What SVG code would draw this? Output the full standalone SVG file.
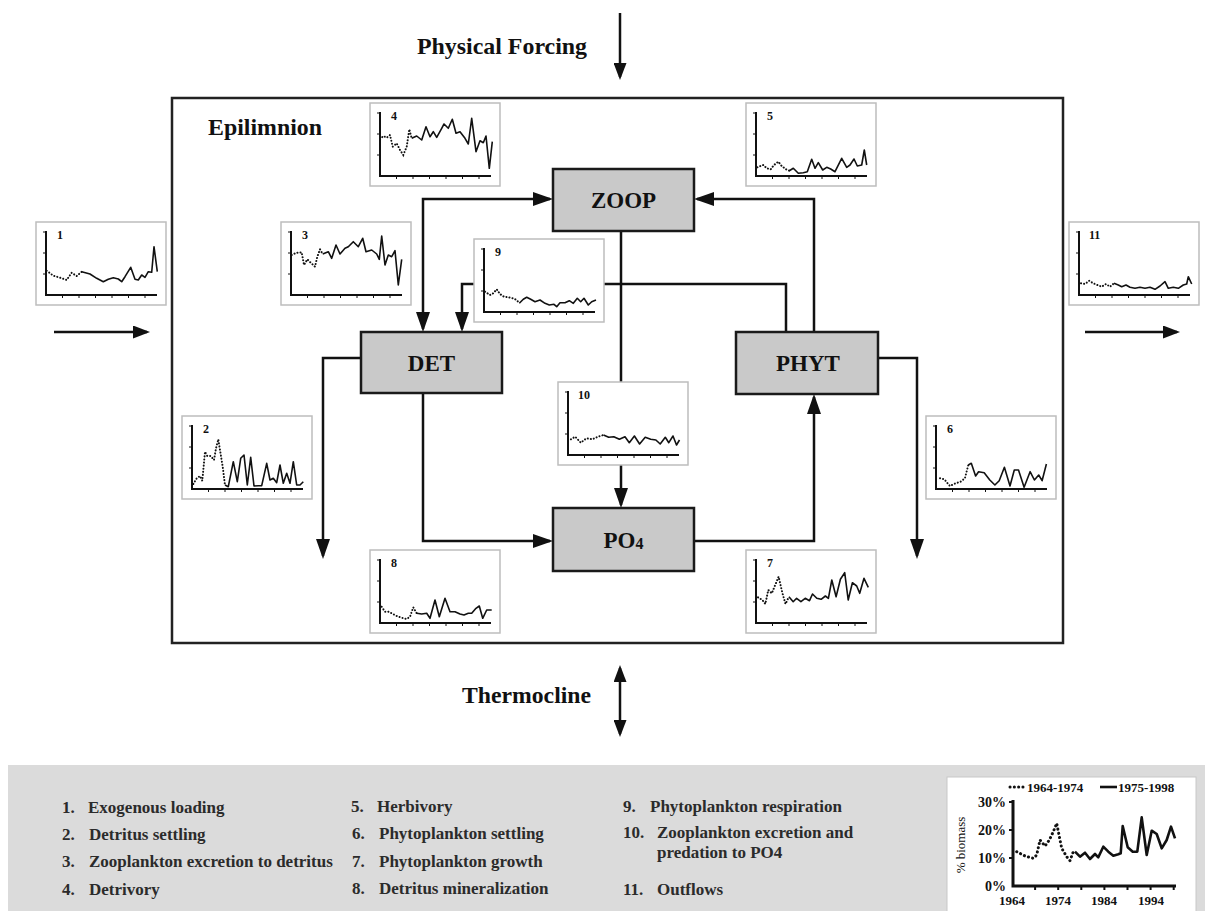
<svg xmlns="http://www.w3.org/2000/svg" width="1213" height="911" viewBox="0 0 1213 911">
<defs>
<style>
.t{font-family:"Liberation Serif","Times New Roman",serif;font-weight:bold;fill:#111}
.big{font-size:24px}
.node{fill:#c9c9c9;stroke:#1a1a1a;stroke-width:2.5}
.nl{font-size:23px;text-anchor:middle}
.con{fill:none;stroke:#111;stroke-width:2.5}
.ibox{fill:#fff;stroke:#bdbdbd;stroke-width:1.5}
.ax{fill:none;stroke:#111;stroke-width:2}
.tk{fill:none;stroke:#111;stroke-width:1}
.dot{fill:none;stroke:#111;stroke-width:2;stroke-dasharray:0.1 3;stroke-linecap:round}
.sol{fill:none;stroke:#111;stroke-width:1.6;stroke-linejoin:round}
.il{font-size:12px}
.lg{font-size:17px;fill:#2b2b2b}
.cax{fill:none;stroke:#111;stroke-width:3}
.cdot{fill:none;stroke:#111;stroke-width:3;stroke-dasharray:0.1 4.2;stroke-linecap:round}
.csol{fill:none;stroke:#111;stroke-width:2.6;stroke-linejoin:round}
.cl{font-size:13px}
</style>
<marker id="ah" markerUnits="userSpaceOnUse" markerWidth="20" markerHeight="14" refX="17" refY="7" orient="auto-start-reverse"><path d="M0,0 L20,7 L0,14 z" fill="#111"/></marker>
<marker id="as" markerUnits="userSpaceOnUse" markerWidth="17" markerHeight="13" refX="14" refY="6.5" orient="auto-start-reverse"><path d="M0,0 L17,6.5 L0,13 z" fill="#111"/></marker>
<g id="frame">
<rect class="ibox" x="0" y="0" width="130" height="83"/>
<path class="ax" d="M10,9 V73 H121"/>
<path class="tk" d="M7,10 H10 M7,31 H10 M7,52 H10 M26.5,73 v3 M43,73 v3 M59.5,73 v3 M76,73 v3 M92.5,73 v3 M109,73 v3"/>
</g>
</defs>

<rect x="0" y="0" width="1213" height="911" fill="#fff"/>

<g id="labels">
<text class="t big" x="417" y="54" textLength="170" lengthAdjust="spacingAndGlyphs">Physical Forcing</text>
<text class="t big" x="462" y="703" textLength="129" lengthAdjust="spacingAndGlyphs">Thermocline</text>
</g>

<g id="epilimnion">
<rect x="172" y="98" width="891" height="545" fill="none" stroke="#222" stroke-width="2.5"/>
<text class="t" style="font-size:23px" x="208" y="135" textLength="114" lengthAdjust="spacingAndGlyphs">Epilimnion</text>
</g>

<g id="connectors">
<path class="con" d="M423,329 V199 H550" marker-start="url(#ah)" marker-end="url(#ah)"/>
<path class="con" d="M786,332 V284 H462 V329" marker-end="url(#ah)"/>
<path class="con" d="M814,332 V199 H697" marker-end="url(#ah)"/>
<path class="con" d="M621,231 V505" marker-end="url(#ah)"/>
<path class="con" d="M423,393 V541 H550" marker-end="url(#ah)"/>
<path class="con" d="M694,541 H814 V397" marker-end="url(#ah)"/>
<path class="con" d="M361,358 H323 V556" marker-end="url(#ah)"/>
<path class="con" d="M878,358 H917 V556" marker-end="url(#ah)"/>
<path class="con" d="M54,332 H147" marker-end="url(#as)"/>
<path class="con" d="M1085,332 H1177" marker-end="url(#as)"/>
<path class="con" d="M620,13 V77" marker-end="url(#as)"/>
<path class="con" d="M620,668 V734" marker-start="url(#as)" marker-end="url(#as)"/>
</g>

<g id="ZOOP"><rect class="node" x="553" y="169" width="141" height="62"/><text class="t nl" x="623.5" y="208">ZOOP</text></g>
<g id="DET"><rect class="node" x="361" y="332" width="141" height="61"/><text class="t nl" x="431.5" y="371">DET</text></g>
<g id="PHYT"><rect class="node" x="736" y="332" width="142" height="62"/><text class="t nl" x="808" y="371">PHYT</text></g>
<g id="PO4"><rect class="node" x="553" y="508" width="141" height="63"/><text class="t nl" x="623.5" y="548">PO<tspan style="font-size:16px" dy="1">4</tspan></text></g>

<g id="inset1" transform="translate(36,222)"><use href="#frame"/><text class="t il" x="21" y="17">1</text>
<polyline class="dot" points="10.7,48.7 17.3,53.7 24,55.7 30.7,58 35.7,50.7 40.7,54 45.7,49.7"/>
<polyline class="sol" points="45.7,49.7 54,52 60.7,56.3 67.3,59.7 72.3,57.3 77.3,55.7 82.3,57 85.7,59.7 89,54.7 94.7,45.3 99,57.3 102.3,58 105.7,53 109,55.3 112.3,49.7 115.7,50.3 118,24.7 121.3,49.7"/></g>

<g id="inset2" transform="translate(182,416)"><use href="#frame"/><text class="t il" x="21" y="17">2</text>
<polyline class="dot" points="11.3,68 14.7,62.3 18,60 20.3,64.7 23,35.7 25.3,40 28.7,40 32,44 34,32.3 36.3,23.3 38,34 40.7,50.7 43,69"/>
<polyline class="sol" points="43,69 46.3,70.7 51.3,45.7 55.3,65.7 58.7,42.3 62,39 65.3,69 68.7,41.3 72,70 76.3,69.7 79.7,69.7 84.7,47.3 88,64 91.3,62.3 94.7,66.7 98,49 101.3,67.3 104.7,57.3 108,67.3 111.3,45.7 114.7,69 118,69 121.3,65.7"/></g>

<g id="inset3" transform="translate(281,222)"><use href="#frame"/><text class="t il" x="21" y="17">3</text>
<polyline class="dot" points="10.7,33 15.7,30.7 20.7,30.3 23,43 26.3,37.3 29.7,40.7 34,44.7 36.3,34.7 39,27.3 41.7,32"/>
<polyline class="sol" points="41.7,32 47.3,29.7 50.7,36.3 55,23 59,32 64,26.3 67.3,24.7 72.3,19.7 77.3,24.7 81.7,16.3 85,29.7 90.7,28 95.7,32 98.3,37.3 100.7,14 104,43 107.3,33 110.7,34.7 114,28.7 117.3,63 120.7,37.3"/></g>

<g id="inset4" transform="translate(370,103)"><use href="#frame"/><text class="t il" x="21" y="17">4</text>
<polyline class="dot" points="10,36.3 13.3,33 16.7,34.7 20,32 22.7,43.7 26.7,40.3 30,47 33.3,52 36.7,43.7 39.3,26.3 41.7,35.3"/>
<polyline class="sol" points="41.7,35.3 46.7,33 51.7,37 56,23.7 60,33.7 63.3,28.7 66.7,34.3 71.7,25.3 74,21 78.3,25.3 82.3,16.3 86,30.3 90,28.7 95,35.3 98.3,41 101.7,15.3 106,48.7 110,37.7 113.3,39.7 116,33 119.3,65.3 122.3,38.7"/></g>

<g id="inset5" transform="translate(746,103)"><use href="#frame"/><text class="t il" x="21" y="17">5</text>
<polyline class="dot" points="11.3,64.3 17.3,62 20.7,65.3 24.7,66.3 28,62 32.3,58.7 35.7,63 40,66.3 43.3,67.7"/>
<polyline class="sol" points="43.3,67.7 47.3,65.3 52.3,70.3 57.3,69.7 61.3,68.7 65.7,56.3 69,65.3 72.3,59.7 76.7,67 80.7,64.3 84.7,66 89,68.7 95.7,55.3 100.7,64.3 104,62 108,56 111.3,63 115.7,62 118.3,47 120.7,62"/></g>

<g id="inset6" transform="translate(926,416)"><use href="#frame"/><text class="t il" x="21" y="17">6</text>
<polyline class="dot" points="14,62.3 18.3,63.3 23.9,70 29.5,67.3 34.6,65.7 38.9,62.3 42.3,49"/>
<polyline class="sol" points="42.3,49 45.3,47.3 49.6,60 52.6,55.7 58.2,56.7 63.8,64 68.9,69 73.2,64.7 78.4,51.3 84,70 88.3,54 92.5,54 98.1,71.3 104.1,55.7 108.4,64 112.7,59 116.1,64.7 120.4,48"/></g>

<g id="inset7" transform="translate(746,550)"><use href="#frame"/><text class="t il" x="21" y="17">7</text>
<polyline class="dot" points="12,47.3 16.3,50 19.3,54 22.3,40 25.8,43.3 29.2,35 32.6,26.7 36.5,43.3 39.5,54 42.9,46.7"/>
<polyline class="sol" points="42.9,46.7 47.2,51.7 50.6,48.3 54.9,51.7 59.2,48.3 63.5,50.7 66.5,44 70.8,48.3 75.1,49.3 79.4,46 82.4,48.3 85.8,30 90.1,46.7 94.4,29.3 98.7,22.7 102.2,50 106.4,32.7 110.7,36 113.7,43.3 118,28.3 122.3,37.3"/></g>

<g id="inset8" transform="translate(370,550)"><use href="#frame"/><text class="t il" x="21" y="17">8</text>
<polyline class="dot" points="11.7,56.7 15,61.7 18.3,61.7 21.7,63.3 26.7,66 31.7,67.7 36.7,69 40,66.7 43.3,57.3 46.7,63.3"/>
<polyline class="sol" points="46.7,63.3 51.7,64 56.7,63.3 60,68.3 65,50 69.3,66.7 75,48.3 80,61.7 85,61.7 90,64 94,65 98.3,63.3 101.7,63.3 106,58.3 109.3,56 112.7,68.3 116.7,60 121.7,60"/></g>

<g id="inset9" transform="translate(474,239)"><use href="#frame"/><text class="t il" x="21" y="17">9</text>
<polyline class="dot" points="11,52.7 16,56 19.3,54.3 22.7,50.3 26,55 30,57.7 34.3,58.3 38.7,59.3 42.7,61 45.3,64.3"/>
<polyline class="sol" points="45.3,64.3 49.3,60.3 52.7,58.3 56.7,60.3 61,62.7 66,61 71,64.3 75.3,66 80,65.3 82.7,67.7 86,63.7 91,63.7 95.3,61.7 99.3,64.3 103.3,59.3 106.7,62.7 110,59.3 114.3,66 117.7,62.7 122,61"/></g>

<g id="inset10" transform="translate(558,382)"><use href="#frame"/><text class="t il" x="20" y="17">10</text>
<polyline class="dot" points="12.9,57.3 17.2,54.7 22.8,60.7 28.4,56.3 34.4,57.3 39.9,54.7 45.5,53"/>
<polyline class="sol" points="45.5,53 50.7,55.3 55.8,54.7 61.4,57.3 67,54.7 71.3,60.7 76.4,54 81.6,62 87.2,55.3 92.7,57.3 97.9,58 102.2,62 107.3,55.3 110.8,60.7 115,54 118.5,63 121.5,58"/></g>

<g id="inset11" transform="translate(1069,222)"><use href="#frame"/><text class="t il" x="20" y="17">11</text>
<polyline class="dot" points="12,61.3 16,62 20.3,58.7 24.3,61.3 28.3,63 32.7,64.7 37,62 41,64.7 45,61.3"/>
<polyline class="sol" points="45,61.3 49.3,63 52.7,64.7 57,63 61,65.3 66,66.3 71,65.3 76,66.3 81,65.3 86,67.3 91,64 96,59.7 99.3,66.3 104.3,65.3 109.3,66.3 114.3,63 117.7,62 119.3,54.7 122.7,62"/></g>

<g id="legend">
<rect x="8" y="765" width="1197" height="146" fill="#dbdbdb"/>
<g class="t lg">
<text x="62" y="813">1.</text><text x="88" y="813">Exogenous loading</text>
<text x="62" y="840">2.</text><text x="89" y="840">Detritus settling</text>
<text x="62" y="867">3.</text><text x="89" y="867">Zooplankton excretion to detritus</text>
<text x="62" y="895">4.</text><text x="89" y="895">Detrivory</text>
<text x="351" y="812">5.</text><text x="377" y="812">Herbivory</text>
<text x="352" y="839">6.</text><text x="379" y="839">Phytoplankton settling</text>
<text x="352" y="867">7.</text><text x="379" y="867">Phytoplankton growth</text>
<text x="352" y="894">8.</text><text x="379" y="894">Detritus mineralization</text>
<text x="623" y="812">9.</text><text x="650" y="812">Phytoplankton respiration</text>
<text x="623" y="838">10.</text><text x="657" y="838">Zooplankton excretion and</text>
<text x="657" y="858">predation to PO4</text>
<text x="623" y="895">11.</text><text x="657" y="895">Outflows</text>
</g>
</g>

<g id="legend-chart">
<rect x="947" y="777" width="249" height="140" fill="#fff" stroke="#c8c8c8" stroke-width="1"/>
<path class="cdot" d="M1010,787 H1025"/>
<text class="t cl" x="1027" y="792">1964-1974</text>
<path class="csol" d="M1100,787 H1117"/>
<text class="t cl" x="1118" y="792">1975-1998</text>
<path class="cax" d="M1013,800 V886 H1176"/>
<path class="tk" style="stroke-width:2" d="M1009,802 H1013 M1009,830 H1013 M1009,858 H1013 M1035.1,886 v4 M1058.2,886 v4 M1081.3,886 v4 M1104.4,886 v4 M1127.5,886 v4 M1150.6,886 v4 M1173.7,886 v4"/>
<g class="t" style="text-anchor:end;font-size:14px">
<text x="1006" y="807">30%</text><text x="1006" y="835">20%</text><text x="1006" y="863">10%</text><text x="1006" y="891">0%</text>
</g>
<text x="0" y="0" transform="translate(965,845) rotate(-90)" style="font-family:'Liberation Serif','Times New Roman',serif;font-size:13px;fill:#111;text-anchor:middle">% biomass</text>
<g class="t cl" style="text-anchor:middle">
<text x="1012" y="905">1964</text><text x="1058" y="905">1974</text><text x="1104" y="905">1984</text><text x="1151" y="905">1994</text>
</g>
<polyline class="cdot" points="1016.7,851.7 1025,856 1033.3,858.3 1036.7,855 1040,840 1045,846 1049.3,840 1053.3,831.7 1056.7,823.3 1061.7,848.3 1066.7,856.7 1070,860.7 1073.3,851.7 1075,851.7"/>
<polyline class="csol" points="1075,851.7 1080,856.7 1085,852.7 1090,859 1095,854 1098.3,857.3 1103.3,846.7 1108.3,851.7 1113.3,855.7 1118.3,854.3 1120.7,853.3 1122.7,826 1127.7,847.3 1132.7,851.7 1137.3,851.7 1141.7,817.3 1146.7,855 1151.7,830.7 1156.7,834 1161.7,848.3 1166.7,840 1171,826.7 1175,838.3"/>
</g>
</svg>
